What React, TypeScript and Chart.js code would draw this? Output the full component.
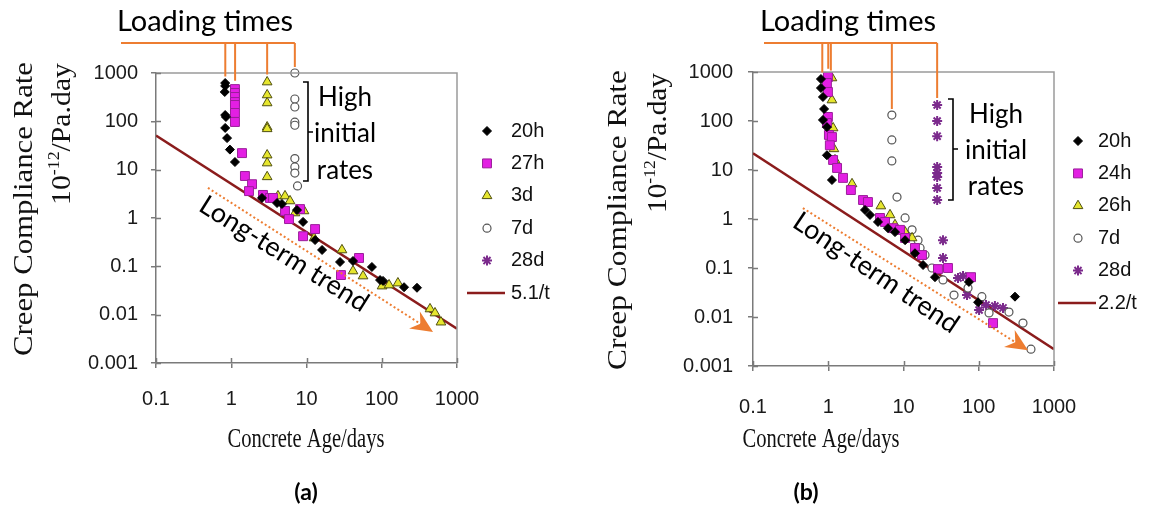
import React, { useEffect, useRef } from 'react';
import { Chart, registerables } from 'chart.js';
import { drawPoint } from 'chart.js/helpers';

Chart.register(...registerables);

// ---- axes ----
const X_TICKS = [0.1, 1, 10, 100, 1000];
const X_TICK_LABELS = ['0.1', '1', '10', '100', '1000'];
const Y_TICKS = [0.001, 0.01, 0.1, 1, 10, 100, 1000];
const Y_TICK_LABELS = ['0.001', '0.01', '0.1', '1', '10', '100', '1000'];

// ---- panel (a) data: concrete age (days) vs creep compliance rate (1e-12/Pa.day) ----
const A_20H_AGE = [0.83, 0.83, 0.82, 0.83, 0.85, 0.83, 0.88, 0.96, 1.12, 2.56, 4.06, 4.72, 7.48, 9.0, 13.0, 16.1, 27.9, 41.5, 74, 95, 104, 198, 294];
const A_20H_RATE = [620, 540, 405, 135, 123, 73, 45, 26, 14.4, 2.6, 2.04, 1.95, 1.46, 0.83, 0.35, 0.218, 0.123, 0.129, 0.097, 0.052, 0.05, 0.037, 0.036];
const A_27H_AGE = [1.12, 1.12, 1.12, 1.12, 1.12, 1.12, 1.12, 1.39, 1.52, 1.89, 1.72, 2.64, 3.27, 3.59, 5.18, 5.85, 8.2, 13.0, 9.0, 49.9, 28.7];
const A_27H_RATE = [465, 386, 319, 251, 218, 149, 97, 22, 7.4, 5.0, 3.6, 3.0, 2.6, 2.6, 1.4, 0.95, 1.53, 0.59, 0.42, 0.149, 0.066];
const A_3D_AGE = [3.0, 3.0, 3.0, 3.0, 3.0, 3.0, 3.0, 3.0, 4.18, 5.18, 6.04, 7.03, 9.27, 12.6, 29.6, 41.5, 56.4, 101, 125, 164, 438, 510, 612];
const A_3D_RATE = [650, 351, 240, 76, 70, 20, 13.7, 7.1, 2.85, 2.85, 2.25, 1.27, 1.4, 0.385, 0.218, 0.08, 0.063, 0.039, 0.041, 0.045, 0.0131, 0.0108, 0.007];
const A_7D_AGE = [7.0, 7.0, 7.0, 7.0, 7.0, 7.0, 7.0, 7.0, 7.6];
const A_7D_RATE = [1000, 290, 198, 96, 83, 17, 11.4, 8.5, 4.6];
const A_28D_AGE: number[] = [];
const A_28D_RATE: number[] = [];
const A_TREND_COEF = 5.1;
const A_LABELS = ['20h', '27h', '3d', '7d', '28d', '5.1/t'];
const A_LOADING_AGES = [20 / 24, 27 / 24, 3, 7];

// ---- panel (b) data ----
const B_20H_AGE = [0.8, 0.8, 0.85, 0.88, 0.85, 0.96, 0.96, 1.12, 3.08, 3.59, 4.58, 6.22, 7.71, 10.5, 14.2, 18.2, 26.2, 74, 98, 303];
const B_20H_RATE = [719, 471, 309, 176, 105, 75, 20, 6.25, 1.53, 1.21, 0.87, 0.65, 0.54, 0.37, 0.2, 0.115, 0.065, 0.052, 0.02, 0.026];
const B_24H_AGE = [0.99, 0.96, 0.99, 0.99, 0.96, 1.02, 1.12, 1.05, 1.16, 1.31, 1.57, 2.0, 2.9, 3.37, 4.87, 5.68, 7.25, 8.98, 10.5, 14.2, 17.6, 28.7, 39.0, 79, 155];
const B_24H_RATE = [791, 597, 391, 121, 91, 52, 47, 32, 16, 11, 6.9, 3.9, 2.44, 2.22, 1.05, 0.87, 0.65, 0.6, 0.41, 0.256, 0.184, 0.095, 0.1, 0.065, 0.0075];
const B_26H_AGE = [1.12, 1.12, 1.16, 1.19, 1.23, 2.07, 5.0, 6.62, 7.71, 10.5, 13.0];
const B_26H_RATE = [755, 268, 72, 27, 16, 5.2, 1.84, 1.21, 0.76, 0.54, 0.41];
const B_7D_AGE = [7.0, 7.0, 7.0, 8.2, 10.5, 13.0, 15.6, 16.6, 19.3, 23.9, 33.5, 46.9, 72, 110, 137, 252, 387, 494];
const B_7D_RATE = [132, 41, 15.3, 2.8, 1.05, 0.6, 0.37, 0.256, 0.184, 0.1, 0.057, 0.028, 0.039, 0.026, 0.0121, 0.0126, 0.0075, 0.0022];
const B_28D_AGE = [28, 28, 28, 28, 28, 28, 28, 28, 33.5, 33.5, 53, 61.8, 69.8, 101, 125, 164, 210];
const B_28D_RATE = [212, 100, 49, 11.5, 8.7, 7.2, 4.3, 2.44, 0.37, 0.16, 0.0625, 0.069, 0.028, 0.0139, 0.0176, 0.0167, 0.0153];
const B_TREND_COEF = 2.2;
const B_LABELS = ['20h', '24h', '26h', '7d', '28d', '2.2/t'];
const B_LOADING_AGES = [20 / 24, 1, 26 / 24, 7, 28];

const TREND_AGES = [0.1, 1000];

// ---- styling ----
const ORANGE = '#ED7D31';
const TREND_COLOR = '#8B1C1C';
const AXIS_GREY = '#7a7a7a';
const SANS = "'Liberation Sans', Arial, sans-serif";
const SERIF = "'Liberation Serif', 'Times New Roman', serif";
const CALLOUT = "Lato, 'Open Sans', sans-serif";

type Marker = { pointStyle: string; radius: number; bg: string; border: string; bw: number };
const MARKERS: Marker[] = [
  { pointStyle: 'rectRot', radius: 4.5, bg: '#000000', border: '#000000', bw: 1 },
  { pointStyle: 'rect', radius: 6.3, bg: '#E31FE3', border: '#9A1F9A', bw: 1 },
  { pointStyle: 'triangle', radius: 5.6, bg: '#E6E62E', border: '#4F4F10', bw: 1 },
  { pointStyle: 'circle', radius: 4, bg: '#ffffff', border: '#555555', bw: 1.2 },
  { pointStyle: 'star', radius: 5, bg: '#7B2A8C', border: '#7B2A8C', bw: 2 },
];

type Panel = {
  ages: number[][];
  rates: number[][];
  labels: string[];
  coef: number;
  loadingAges: number[];
  canvasLeft: number;
  canvasWidth: number;
  area: { left: number; top: number; right: number; bottom: number };
  yTickPad: number;
  xTickPad: number;
  deco: {
    loadText: [number, number];
    barY: number;
    barLeft: number;
    brace: { x: number; top: number; bottom: number; mid: number };
    high: { x: number; ys: number[] };
    trendText: { cx: number; cy: number; angle: number };
    arrowFrom: [number, number];
    arrowTo: [number, number];
    legend: { mx: number; tx: number; y0: number; dy: number };
    yTitle1: { cx: number; cy: number; len: number };
    yTitle2: { cx: number; cy: number; len: number };
    xTitle: [number, number];
    tag: { text: string; x: number; y: number };
  };
};

const PANEL_A: Panel = {
  ages: [A_20H_AGE, A_27H_AGE, A_3D_AGE, A_7D_AGE, A_28D_AGE],
  rates: [A_20H_RATE, A_27H_RATE, A_3D_RATE, A_7D_RATE, A_28D_RATE],
  labels: A_LABELS,
  coef: A_TREND_COEF,
  loadingAges: A_LOADING_AGES,
  canvasLeft: 0,
  canvasWidth: 580,
  area: { left: 156, top: 73, right: 457, bottom: 363 },
  yTickPad: 13,
  xTickPad: 19,
  deco: {
    loadText: [205, 22],
    barY: 43,
    barLeft: 121,
    brace: { x: 308, top: 82, bottom: 181, mid: 132 },
    high: { x: 345, ys: [98, 134, 171] },
    trendText: { cx: 284, cy: 254, angle: 32 },
    arrowFrom: [0.49, 4.2],
    arrowTo: [480, 0.0044],
    legend: { mx: 487, tx: 511, y0: 131, dy: 32.4 },
    yTitle1: { cx: 25, cy: 209, len: 294 },
    yTitle2: { cx: 61, cy: 134, len: 142 },
    xTitle: [306, 440],
    tag: { text: '(a)', x: 306, y: 493 },
  },
};

const PANEL_B: Panel = {
  ages: [B_20H_AGE, B_24H_AGE, B_26H_AGE, B_7D_AGE, B_28D_AGE],
  rates: [B_20H_RATE, B_24H_RATE, B_26H_RATE, B_7D_RATE, B_28D_RATE],
  labels: B_LABELS,
  coef: B_TREND_COEF,
  loadingAges: B_LOADING_AGES,
  canvasLeft: 580,
  canvasWidth: 579,
  area: { left: 173, top: 72, right: 474, bottom: 366 },
  yTickPad: 15,
  xTickPad: 24,
  deco: {
    loadText: [268, 22],
    barY: 43,
    barLeft: 184,
    brace: { x: 373, top: 99, bottom: 200, mid: 149 },
    high: { x: 416, ys: [115, 151, 187] },
    trendText: { cx: 296, cy: 273, angle: 34 },
    arrowFrom: [0.46, 1.67],
    arrowTo: [451, 0.0021],
    legend: { mx: 498, tx: 518, y0: 141, dy: 32.4 },
    yTitle1: { cx: 39, cy: 220, len: 300 },
    yTitle2: { cx: 77, cy: 143, len: 140 },
    xTitle: [241, 440],
    tag: { text: '(b)', x: 226, y: 493 },
  },
};

const Y_AXIS_W = 72;
const X_AXIS_H = 60;

function fitText(
  ctx: CanvasRenderingContext2D,
  text: string,
  cx: number,
  cy: number,
  angle: number,
  font: string,
  color: string,
  len?: number,
  yScale = 1,
) {
  ctx.save();
  ctx.translate(cx, cy);
  ctx.rotate((angle * Math.PI) / 180);
  ctx.font = font;
  const w = ctx.measureText(text).width;
  ctx.scale(len ? len / w : 1, yScale);
  ctx.textAlign = 'center';
  ctx.textBaseline = 'middle';
  ctx.fillStyle = color;
  ctx.fillText(text, 0, 0);
  ctx.restore();
}

function unitTitle(ctx: CanvasRenderingContext2D, cx: number, cy: number, len: number, size: number) {
  const runs = [
    { t: '10', s: 1, r: 0 },
    { t: '-12', s: 0.6, r: 0.4 },
    { t: '/Pa.day', s: 1, r: 0 },
  ];
  ctx.save();
  ctx.translate(cx, cy);
  ctx.rotate(-Math.PI / 2);
  let total = 0;
  const widths = runs.map((r) => {
    ctx.font = `${size * r.s}px ${SERIF}`;
    const w = ctx.measureText(r.t).width;
    total += w;
    return w;
  });
  ctx.scale(len / total, 1);
  ctx.fillStyle = '#111';
  ctx.textBaseline = 'alphabetic';
  ctx.textAlign = 'left';
  let x = -total / 2;
  runs.forEach((r, i) => {
    ctx.font = `${size * r.s}px ${SERIF}`;
    ctx.fillText(r.t, x, size * 0.33 - r.r * size);
    x += widths[i];
  });
  ctx.restore();
}

function decorPlugin(p: Panel) {
  return {
    id: 'decor',
    afterDraw(chart: any) {
      const ctx: CanvasRenderingContext2D = chart.ctx;
      const xs = chart.scales.x;
      const ys = chart.scales.y;
      const a = chart.chartArea;
      const d = p.deco;
      ctx.save();

      // top / right frame and inner halves of tick marks
      ctx.strokeStyle = '#9a9a9a';
      ctx.lineWidth = 1.5;
      ctx.beginPath();
      ctx.moveTo(a.left, a.top);
      ctx.lineTo(a.right, a.top);
      ctx.lineTo(a.right, a.bottom);
      ctx.stroke();
      ctx.strokeStyle = AXIS_GREY;
      ctx.beginPath();
      X_TICKS.forEach((v) => {
        const px = Math.round(xs.getPixelForValue(v)) + 0.5;
        ctx.moveTo(px, a.bottom);
        ctx.lineTo(px, a.bottom - 5);
      });
      Y_TICKS.forEach((v) => {
        const py = Math.round(ys.getPixelForValue(v)) + 0.5;
        ctx.moveTo(a.left, py);
        ctx.lineTo(a.left + 5, py);
      });
      ctx.stroke();

      // loading-time callout
      ctx.strokeStyle = ORANGE;
      ctx.lineWidth = 2;
      const lx = p.loadingAges.map((v) => xs.getPixelForValue(v));
      ctx.beginPath();
      ctx.moveTo(d.barLeft, d.barY);
      ctx.lineTo(lx[lx.length - 1], d.barY);
      lx.forEach((px, i) => {
        const top = Math.max(...p.rates[i]);
        const end = ys.getPixelForValue(top) - MARKERS[i].radius - 2;
        ctx.moveTo(px, d.barY);
        ctx.lineTo(px, end);
      });
      ctx.stroke();
      fitText(ctx, 'Loading times', d.loadText[0], d.loadText[1], 0, `29px ${CALLOUT}`, '#000');

      // bracket for the high initial rates
      const b = d.brace;
      ctx.strokeStyle = '#000';
      ctx.lineWidth = 1.6;
      ctx.beginPath();
      ctx.moveTo(b.x - 5, b.top);
      ctx.lineTo(b.x, b.top);
      ctx.lineTo(b.x, b.bottom);
      ctx.lineTo(b.x - 5, b.bottom);
      ctx.moveTo(b.x, b.mid);
      ctx.lineTo(b.x + 5, b.mid);
      ctx.stroke();
      ['High', 'initial', 'rates'].forEach((t, i) => fitText(ctx, t, d.high.x, d.high.ys[i], 0, `26px ${CALLOUT}`, '#000'));

      // long-term trend arrow
      const x0 = xs.getPixelForValue(d.arrowFrom[0]);
      const y0 = ys.getPixelForValue(d.arrowFrom[1]);
      const x1 = xs.getPixelForValue(d.arrowTo[0]);
      const y1 = ys.getPixelForValue(d.arrowTo[1]);
      const ang = Math.atan2(y1 - y0, x1 - x0);
      const headLen = 22;
      const bx = x1 - Math.cos(ang) * headLen;
      const by = y1 - Math.sin(ang) * headLen;
      ctx.strokeStyle = ORANGE;
      ctx.lineWidth = 2;
      ctx.setLineDash([2, 2.5]);
      ctx.beginPath();
      ctx.moveTo(x0, y0);
      ctx.lineTo(x1 - Math.cos(ang) * 14, y1 - Math.sin(ang) * 14);
      ctx.stroke();
      ctx.setLineDash([]);
      ctx.fillStyle = ORANGE;
      const nx = -Math.sin(ang);
      const ny = Math.cos(ang);
      ctx.beginPath();
      ctx.moveTo(x1, y1);
      ctx.lineTo(bx + nx * 10, by + ny * 10);
      ctx.lineTo(x1 - Math.cos(ang) * 15, y1 - Math.sin(ang) * 15);
      ctx.lineTo(bx - nx * 10, by - ny * 10);
      ctx.closePath();
      ctx.fill();
      fitText(ctx, 'Long-term trend', d.trendText.cx, d.trendText.cy, d.trendText.angle, `27px ${CALLOUT}`, '#000');

      // legend
      const lg = d.legend;
      ctx.textAlign = 'left';
      ctx.textBaseline = 'middle';
      p.labels.forEach((lab, i) => {
        const y = lg.y0 + i * lg.dy;
        if (i < MARKERS.length) {
          const m = MARKERS[i];
          ctx.fillStyle = m.bg;
          ctx.strokeStyle = m.border;
          ctx.lineWidth = m.bw;
          drawPoint(ctx, { pointStyle: m.pointStyle as any, radius: m.radius, rotation: 0, borderWidth: m.bw }, lg.mx, y);
        } else {
          ctx.strokeStyle = TREND_COLOR;
          ctx.lineWidth = 2.5;
          ctx.beginPath();
          ctx.moveTo(lg.mx - 20, y);
          ctx.lineTo(lg.mx + 18, y);
          ctx.stroke();
        }
        ctx.fillStyle = '#111';
        ctx.font = `20px ${SANS}`;
        ctx.fillText(lab, lg.tx, y);
      });

      // axis titles and panel tag
      fitText(ctx, 'Creep Compliance Rate', d.yTitle1.cx, d.yTitle1.cy, -90, `27px ${SERIF}`, '#111', d.yTitle1.len);
      unitTitle(ctx, d.yTitle2.cx, d.yTitle2.cy, d.yTitle2.len, 27);
      fitText(ctx, 'Concrete Age/days', d.xTitle[0], d.xTitle[1], 0, `21px ${SERIF}`, '#111', 157, 1.25);
      fitText(ctx, d.tag.text, d.tag.x, d.tag.y, 0, `bold 23px ${CALLOUT}`, '#000');
      ctx.restore();
    },
  };
}

function buildConfig(p: Panel): any {
  const datasets: any[] = p.ages.map((ages, i) => {
    const m = MARKERS[i];
    return {
      type: 'scatter',
      label: p.labels[i],
      data: ages.map((x, j) => ({ x, y: p.rates[i][j] })),
      pointStyle: m.pointStyle,
      pointRadius: m.radius,
      backgroundColor: m.bg,
      borderColor: m.border,
      pointBorderWidth: m.bw,
      borderWidth: m.bw,
      clip: false,
    };
  });
  datasets.push({
    type: 'line',
    label: p.labels[5],
    data: TREND_AGES.map((t) => ({ x: t, y: p.coef / t })),
    borderColor: TREND_COLOR,
    borderWidth: 2.5,
    pointRadius: 0,
    fill: false,
  });
  const pad = {
    left: p.area.left - Y_AXIS_W,
    top: p.area.top,
    right: p.canvasWidth - p.area.right,
    bottom: 513 - p.area.bottom - X_AXIS_H,
  };
  const tickFont = { family: SANS, size: 20 };
  return {
    type: 'scatter',
    data: { datasets },
    options: {
      animation: false,
      responsive: false,
      devicePixelRatio: 1,
      layout: { padding: pad },
      plugins: { legend: { display: false }, tooltip: { enabled: false } },
      scales: {
        x: {
          type: 'logarithmic',
          min: 0.1,
          max: 1000,
          afterBuildTicks: (s: any) => {
            s.ticks = X_TICKS.map((v) => ({ value: v }));
          },
          afterFit: (s: any) => {
            s.height = X_AXIS_H;
          },
          ticks: {
            font: tickFont,
            color: '#1a1a1a',
            padding: p.xTickPad,
            maxRotation: 0,
            autoSkip: false,
            callback: (_v: any, i: number) => X_TICK_LABELS[i],
          },
          grid: { drawOnChartArea: false, drawTicks: true, tickLength: 5, color: AXIS_GREY, lineWidth: 1.5 },
          border: { display: true, color: AXIS_GREY, width: 1.5 },
        },
        y: {
          type: 'logarithmic',
          min: 0.001,
          max: 1000,
          afterBuildTicks: (s: any) => {
            s.ticks = Y_TICKS.map((v) => ({ value: v }));
          },
          afterFit: (s: any) => {
            s.width = Y_AXIS_W;
          },
          ticks: {
            font: tickFont,
            color: '#1a1a1a',
            padding: p.yTickPad,
            autoSkip: false,
            callback: (_v: any, i: number) => Y_TICK_LABELS[i],
          },
          grid: { drawOnChartArea: false, drawTicks: true, tickLength: 5, color: AXIS_GREY, lineWidth: 1.5 },
          border: { display: true, color: AXIS_GREY, width: 1.5 },
        },
      },
    },
    plugins: [decorPlugin(p)],
  };
}

export default function App() {
  const refA = useRef<HTMLCanvasElement>(null);
  const refB = useRef<HTMLCanvasElement>(null);
  useEffect(() => {
    document.body.style.margin = '0';
    const a = new Chart(refA.current as HTMLCanvasElement, buildConfig(PANEL_A));
    const b = new Chart(refB.current as HTMLCanvasElement, buildConfig(PANEL_B));
    return () => {
      a.destroy();
      b.destroy();
    };
  }, []);
  const cs = (p: Panel): React.CSSProperties => ({
    position: 'absolute',
    left: p.canvasLeft,
    top: 0,
    width: p.canvasWidth,
    height: 513,
  });
  return (
    <div style={{ position: 'fixed', left: 0, top: 0, width: 1159, height: 513, background: '#fff' }}>
      <canvas ref={refA} width={PANEL_A.canvasWidth} height={513} style={cs(PANEL_A)} />
      <canvas ref={refB} width={PANEL_B.canvasWidth} height={513} style={cs(PANEL_B)} />
    </div>
  );
}
